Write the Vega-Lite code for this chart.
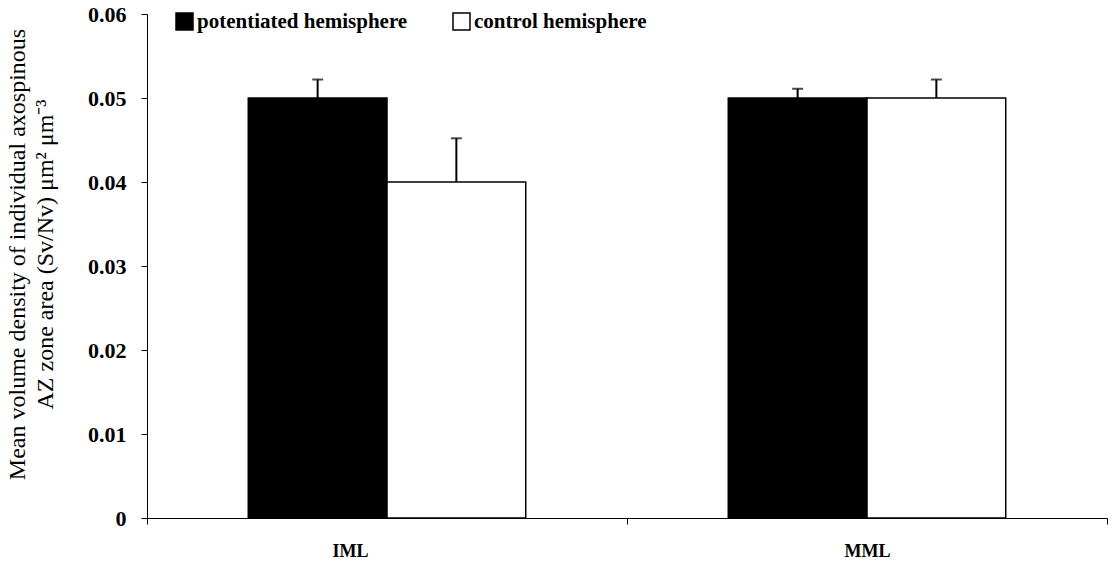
{
  "$schema": "https://vega.github.io/schema/vega-lite/v6.json",
  "width": 960,
  "height": 504,
  "autosize": {"type": "none"},
  "padding": {"left": 147, "top": 14, "right": 8, "bottom": 51},
  "background": "white",
  "config": {
    "view": {"stroke": null},
    "font": "Liberation Serif",
    "axis": {"domainColor": "black", "tickColor": "black", "labelColor": "black", "titleColor": "black", "grid": false}
  },
  "data": {
    "values": [
      {"layer": "IML", "group": "potentiated hemisphere", "value": 0.050, "upper": 0.0522},
      {"layer": "IML", "group": "control hemisphere", "value": 0.040, "upper": 0.0452},
      {"layer": "MML", "group": "potentiated hemisphere", "value": 0.050, "upper": 0.0511},
      {"layer": "MML", "group": "control hemisphere", "value": 0.050, "upper": 0.0522}
    ]
  },
  "encoding": {
    "x": {
      "field": "layer", "type": "nominal", "sort": ["IML", "MML"],
      "scale": {"paddingInner": 0, "paddingOuter": 0},
      "axis": {"title": null, "labelAngle": 0, "labelFont": "Liberation Serif", "labelFontWeight": "bold", "labelFontSize": 18, "labelPadding": 18, "tickBand": "extent", "tickSize": 6, "domainWidth": 1, "tickWidth": 1,
        "labelOffset": {"condition": {"test": "datum.value == 'IML'", "value": -37}, "value": 0}}
    },
    "xOffset": {
      "field": "group", "type": "nominal", "sort": ["potentiated hemisphere", "control hemisphere"],
      "scale": {"paddingInner": 0, "paddingOuter": 0.73}
    }
  },
  "layer": [
    {
      "mark": {"type": "bar", "stroke": "black", "strokeWidth": 1.5},
      "encoding": {
        "y": {
          "field": "value", "type": "quantitative",
          "scale": {"domain": [0, 0.06], "nice": false, "zero": true},
          "axis": {
            "values": [0, 0.01, 0.02, 0.03, 0.04, 0.05, 0.06],
            "format": "~g",
            "labelFont": "Liberation Serif", "labelFontWeight": "bold", "labelFontSize": 22, "labelPadding": 15,
            "tickSize": 6, "domainWidth": 1, "tickWidth": 1,
            "title": ["Mean volume density of individual axospinous", "AZ zone area (Sv/Nv) μm² μm⁻³"],
            "titleFont": "Liberation Serif", "titleFontWeight": "normal", "titleFontSize": 24,
            "titleLineHeight": 28, "titleAngle": -90, "titleAlign": "center", "titleBaseline": "top",
            "titleX": -142, "titleY": 240
          }
        },
        "color": {
          "field": "group", "type": "nominal", "sort": ["potentiated hemisphere", "control hemisphere"],
          "scale": {"range": ["black", "white"]},
          "legend": {
            "title": null, "orient": "none", "direction": "horizontal", "legendX": 27, "legendY": -3,
            "symbolType": "square", "symbolSize": 289, "symbolStrokeColor": "black", "symbolStrokeWidth": 1.5, "symbolOpacity": 1,
            "labelFont": "Liberation Serif", "labelFontWeight": "bold", "labelFontSize": 21, "labelColor": "black",
            "labelOffset": 2, "columnPadding": 42, "labelLimit": 400
          }
        }
      }
    },
    {
      "mark": {"type": "rule", "color": "black", "strokeWidth": 2},
      "encoding": {
        "y": {"field": "value", "type": "quantitative"},
        "y2": {"field": "upper"}
      }
    },
    {
      "mark": {"type": "tick", "color": "black", "thickness": 2, "size": 11},
      "encoding": {
        "y": {"field": "upper", "type": "quantitative"}
      }
    }
  ]
}
